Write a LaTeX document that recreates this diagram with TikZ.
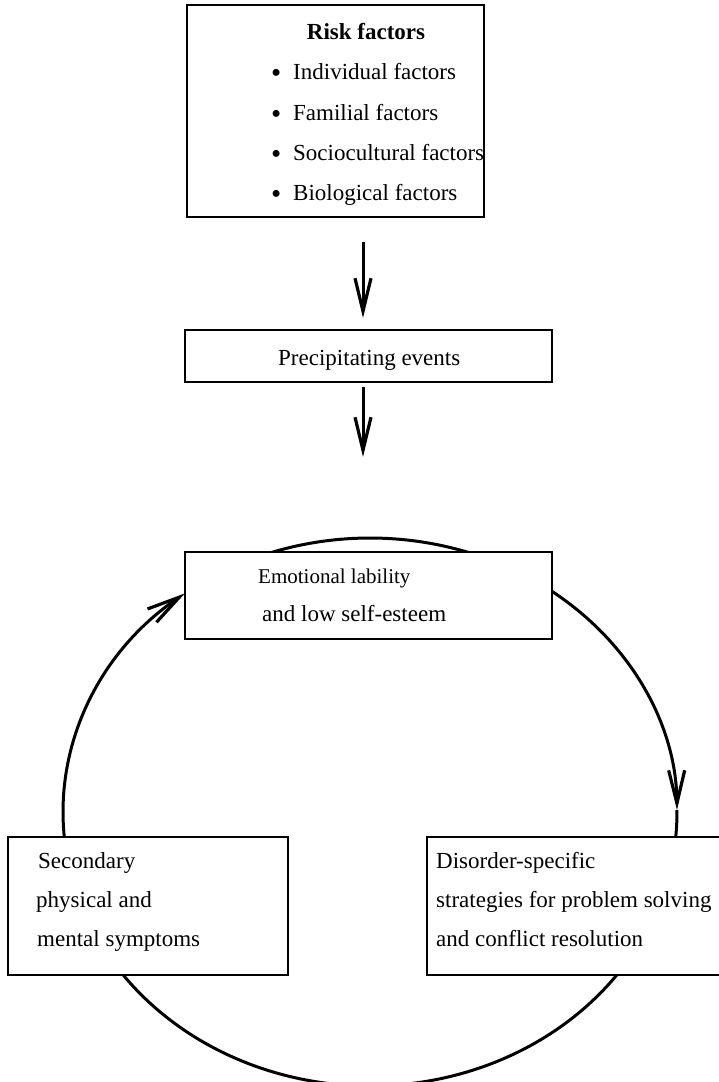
\documentclass[tikz,border=0pt]{standalone}
\usepackage{fontspec}
\setmainfont{Liberation Serif}
\usetikzlibrary{arrows.meta,backgrounds}
\newcommand{\itembullet}{\llap{\raisebox{-3.5pt}{\fontsize{29}{29}\selectfont\textbullet}\hspace{12pt}}}
\begin{document}
\begin{tikzpicture}[x=1pt,y=1pt,
  frame/.style={draw, line width=2pt, fill=white, inner sep=0pt, rectangle},
  thinframe/.style={draw, line width=1.1pt, fill=white, inner sep=0pt, rectangle},
  txt/.style={inner sep=0pt, anchor=base west, font=\fontsize{23}{27}\selectfont},
  smalltxt/.style={txt, font=\fontsize{21}{25}\selectfont},
  barb/.style={-{Straight Barb[length=33pt, width=16pt, line width=3.2pt]}},
  flow/.style={line width=3pt, barb},
  cyc/.style={line width=3pt},
  cycarrow/.style={cyc, barb},
  ell/.style={x radius=307, y radius=274}
]
\useasboundingbox (0,0) rectangle (719,-1082);

% boxes
\node[frame, minimum width=297, minimum height=212] (risk) at (335.5,-111) {};
\node[thinframe, minimum width=367, minimum height=52] (precip) at (368.5,-356) {};
\node[frame, minimum width=367, minimum height=87] (emo) at (368.5,-595.5) {};
\node[frame, minimum width=280, minimum height=138] (sec) at (148,-906) {};
\node[frame, minimum width=313, minimum height=138] (dis) at (583.5,-906) {};

% risk factors
\node[txt, anchor=base, font=\fontsize{23}{27}\selectfont\bfseries] (riskhead) at (366,-39) {Risk factors};
\node[txt] (ind) at (293,-79) {\itembullet Individual factors};
\node[txt] (fam) at (293,-120) {\itembullet Familial factors};
\node[txt] (soc) at (293,-160) {\itembullet Sociocultural factors};
\node[txt] (bio) at (293,-200) {\itembullet Biological factors};

% precipitating events
\node[txt] (pe) at (278,-365) {Precipitating events};

% emotional lability
\node[smalltxt] (emo1) at (258,-583) {Emotional lability};
\node[txt] (emo2) at (262,-621) {and low self-esteem};

% secondary symptoms
\node[txt] (sec1) at (38,-868) {Secondary};
\node[txt] (sec2) at (36,-907) {physical and};
\node[txt] (sec3) at (37,-946) {mental symptoms};

% disorder-specific strategies
\node[txt] (dis1) at (436,-868) {Disorder-specific};
\node[txt] (dis2) at (436,-907) {strategies for problem solving};
\node[txt] (dis3) at (436,-946) {and conflict resolution};

% straight arrows
\coordinate (a1s) at (363,-242);
\coordinate (a1e) at (363,-318);
\coordinate (a2s) at (363,-387);
\coordinate (a2e) at (363,-457);
\draw[flow] (a1s) -- (a1e);
\draw[flow] (a2s) -- (a2e);

% the cycle, behind the boxes
\coordinate (hub) at (370,-812);
\begin{scope}[on background layer]
  % secondary symptoms -> emotional lability
  \draw[cycarrow] (hub) ++(185.2:307 and 274) arc[start angle=185.2, end angle=127.06, ell];
  % over the top of the emotional lability box
  \draw[cyc] (hub) ++(127.06:307 and 274) arc[start angle=127.06, end angle=53.4, ell];
  % emotional lability -> disorder-specific strategies
  \draw[cycarrow] (hub) ++(53.4:307 and 274) arc[start angle=53.4, end angle=0.4, ell];
  \draw[cyc] (hub) ++(0.4:307 and 274) arc[start angle=0.4, end angle=-6, ell];
  % disorder-specific strategies -> secondary symptoms
  \draw[cyc] (hub) ++(-36:307 and 274) arc[start angle=-36, end angle=-145, ell];
\end{scope}
\end{tikzpicture}
\end{document}
